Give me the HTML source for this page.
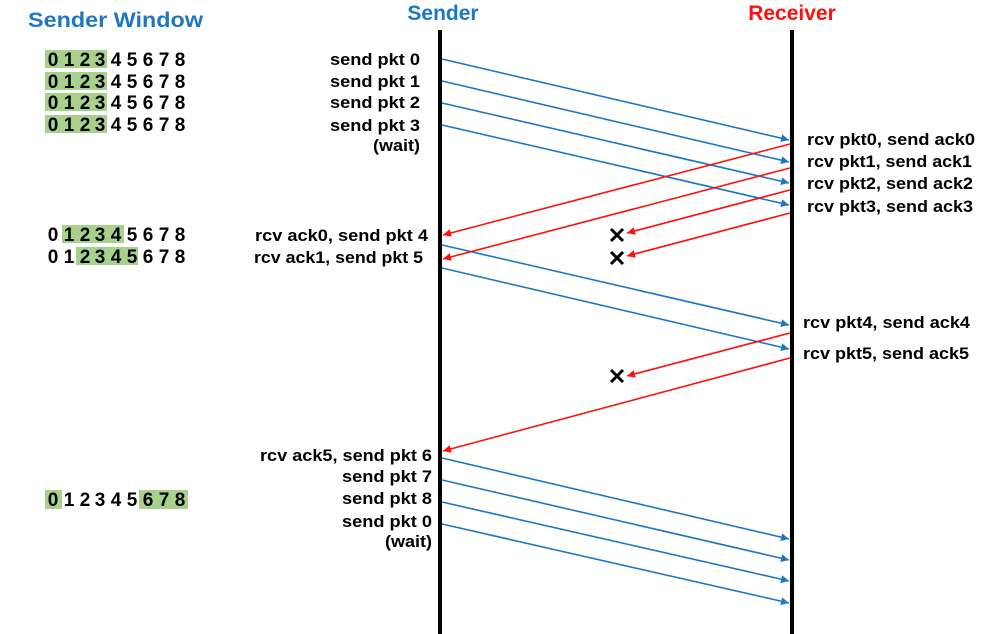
<!DOCTYPE html>
<html><head><meta charset="utf-8"><style>
html,body{margin:0;padding:0;background:#fff;}
svg{display:block;font-family:"Liberation Sans","NanumGothic",sans-serif;}
.t{font-size:17px;fill:#000;font-weight:bold;}
.d{font-size:19px;fill:#000;text-anchor:middle;font-weight:bold;}
</style></head><body>
<svg width="998" height="634" viewBox="0 0 998 634" xmlns="http://www.w3.org/2000/svg">
<defs>
<marker id="ab" viewBox="0 0 10 10" refX="10" refY="5" markerWidth="8" markerHeight="8" orient="auto-start-reverse" markerUnits="userSpaceOnUse"><path d="M0,0L10,5L0,10z" fill="#1f77c4"/></marker>
<marker id="ar" viewBox="0 0 10 10" refX="10" refY="5" markerWidth="8" markerHeight="8" orient="auto-start-reverse" markerUnits="userSpaceOnUse"><path d="M0,0L10,5L0,10z" fill="#ff1010"/></marker>
</defs>
<text x="28" y="27" textLength="175" lengthAdjust="spacingAndGlyphs" font-size="21" font-weight="bold" fill="#1f77c4">Sender Window</text>
<text x="443" y="20" text-anchor="middle" font-size="21" font-weight="bold" fill="#1f77c4">Sender</text>
<text x="792" y="20" text-anchor="middle" font-size="21" font-weight="bold" fill="#ff1010">Receiver</text>
<line x1="440" y1="30" x2="440" y2="634" stroke="#000" stroke-width="4"/>
<line x1="792" y1="30" x2="792" y2="634" stroke="#000" stroke-width="4"/>
<g stroke="#1f77c4" stroke-width="1.6" marker-end="url(#ab)">
<line x1="442" y1="59" x2="789" y2="140"/>
<line x1="442" y1="81" x2="789" y2="162"/>
<line x1="442" y1="103" x2="789" y2="183"/>
<line x1="442" y1="125" x2="789" y2="205"/>
<line x1="442" y1="245" x2="789" y2="325"/>
<line x1="442" y1="268" x2="789" y2="349"/>
<line x1="442" y1="458" x2="789" y2="539"/>
<line x1="442" y1="480" x2="789" y2="560"/>
<line x1="442" y1="502" x2="789" y2="581"/>
<line x1="442" y1="524" x2="789" y2="603"/>
</g>
<g stroke="#ff1010" stroke-width="1.6" marker-end="url(#ar)">
<line x1="790" y1="144" x2="443" y2="235"/>
<line x1="790" y1="168" x2="443" y2="259"/>
<line x1="790" y1="190" x2="627" y2="233"/>
<line x1="790" y1="213" x2="627" y2="256"/>
<line x1="790" y1="333" x2="627" y2="376"/>
<line x1="790" y1="358" x2="443" y2="451"/>
</g>
<g stroke="#000" stroke-width="3">
<path d="M611,229l12,12M623,229l-12,12"/>
<path d="M611,252l12,12M623,252l-12,12"/>
<path d="M611,370l12,12M623,370l-12,12"/>
</g>
<g class="t" lengthAdjust="spacingAndGlyphs">
<text x="330" y="65" textLength="90" lengthAdjust="spacingAndGlyphs">send pkt 0</text>
<text x="330" y="87" textLength="90" lengthAdjust="spacingAndGlyphs">send pkt 1</text>
<text x="330" y="108" textLength="90" lengthAdjust="spacingAndGlyphs">send pkt 2</text>
<text x="330" y="131" textLength="90" lengthAdjust="spacingAndGlyphs">send pkt 3</text>
<text x="373" y="151" textLength="47" lengthAdjust="spacingAndGlyphs">(wait)</text>
<text x="255" y="241" textLength="173" lengthAdjust="spacingAndGlyphs">rcv ack0, send pkt 4</text>
<text x="254" y="263" textLength="169" lengthAdjust="spacingAndGlyphs">rcv ack1, send pkt 5</text>
<text x="260" y="461" textLength="172" lengthAdjust="spacingAndGlyphs">rcv ack5, send pkt 6</text>
<text x="342" y="482" textLength="90" lengthAdjust="spacingAndGlyphs">send pkt 7</text>
<text x="342" y="504" textLength="90" lengthAdjust="spacingAndGlyphs">send pkt 8</text>
<text x="342" y="527" textLength="90" lengthAdjust="spacingAndGlyphs">send pkt 0</text>
<text x="385" y="547" textLength="47" lengthAdjust="spacingAndGlyphs">(wait)</text>
<text x="807" y="145" textLength="168" lengthAdjust="spacingAndGlyphs">rcv pkt0, send ack0</text>
<text x="807" y="167" textLength="165" lengthAdjust="spacingAndGlyphs">rcv pkt1, send ack1</text>
<text x="807" y="189" textLength="166" lengthAdjust="spacingAndGlyphs">rcv pkt2, send ack2</text>
<text x="807" y="212" textLength="166" lengthAdjust="spacingAndGlyphs">rcv pkt3, send ack3</text>
<text x="803" y="328" textLength="167" lengthAdjust="spacingAndGlyphs">rcv pkt4, send ack4</text>
<text x="803" y="359" textLength="166" lengthAdjust="spacingAndGlyphs">rcv pkt5, send ack5</text>
</g>
<g fill="#a9d18e">
<rect x="45" y="50" width="62" height="18"/>
<rect x="45" y="72" width="62" height="18"/>
<rect x="45" y="93" width="62" height="18"/>
<rect x="45" y="115" width="62" height="18"/>
<rect x="62" y="225" width="62" height="18"/>
<rect x="76" y="247" width="62" height="18"/>
<rect x="45" y="490" width="17" height="19"/>
<rect x="139" y="490" width="49" height="19"/>
</g>
<g class="d">
<text y="66"><tspan x="53">0</tspan><tspan x="69">1</tspan><tspan x="85">2</tspan><tspan x="100">3</tspan><tspan x="116">4</tspan><tspan x="132">5</tspan><tspan x="148">6</tspan><tspan x="164">7</tspan><tspan x="180">8</tspan></text>
<text y="88"><tspan x="53">0</tspan><tspan x="69">1</tspan><tspan x="85">2</tspan><tspan x="100">3</tspan><tspan x="116">4</tspan><tspan x="132">5</tspan><tspan x="148">6</tspan><tspan x="164">7</tspan><tspan x="180">8</tspan></text>
<text y="109"><tspan x="53">0</tspan><tspan x="69">1</tspan><tspan x="85">2</tspan><tspan x="100">3</tspan><tspan x="116">4</tspan><tspan x="132">5</tspan><tspan x="148">6</tspan><tspan x="164">7</tspan><tspan x="180">8</tspan></text>
<text y="131"><tspan x="53">0</tspan><tspan x="69">1</tspan><tspan x="85">2</tspan><tspan x="100">3</tspan><tspan x="116">4</tspan><tspan x="132">5</tspan><tspan x="148">6</tspan><tspan x="164">7</tspan><tspan x="180">8</tspan></text>
<text y="241"><tspan x="53">0</tspan><tspan x="69">1</tspan><tspan x="85">2</tspan><tspan x="100">3</tspan><tspan x="116">4</tspan><tspan x="132">5</tspan><tspan x="148">6</tspan><tspan x="164">7</tspan><tspan x="180">8</tspan></text>
<text y="263"><tspan x="53">0</tspan><tspan x="69">1</tspan><tspan x="85">2</tspan><tspan x="100">3</tspan><tspan x="116">4</tspan><tspan x="132">5</tspan><tspan x="148">6</tspan><tspan x="164">7</tspan><tspan x="180">8</tspan></text>
<text y="506"><tspan x="53">0</tspan><tspan x="69">1</tspan><tspan x="85">2</tspan><tspan x="100">3</tspan><tspan x="116">4</tspan><tspan x="132">5</tspan><tspan x="148">6</tspan><tspan x="164">7</tspan><tspan x="180">8</tspan></text>
</g>
</svg>
</body></html>
